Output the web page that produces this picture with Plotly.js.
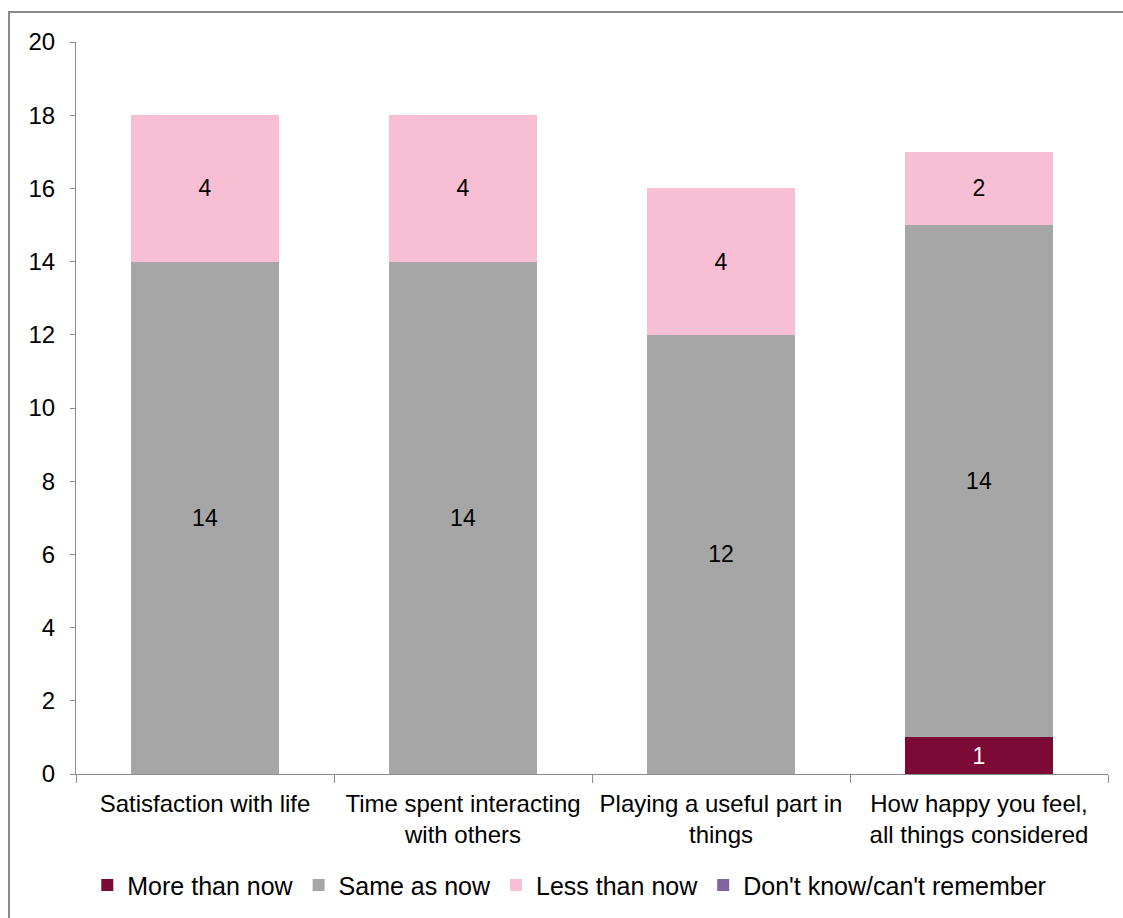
<!DOCTYPE html>
<html>
<head>
<meta charset="utf-8">
<script src="https://cdn.plot.ly/plotly-3.0.1.min.js"></script>
<style>
  html, body { margin: 0; padding: 0; background: #fff; }
  #chart { width: 1123px; height: 918px; }
</style>
</head>
<body>
<div id="chart"></div>
<script>
// Categories (two-line labels under each bar)
const categories = [
  "Satisfaction with life",
  "Time spent interacting<br>with others",
  "Playing a useful part in<br>things",
  "How happy you feel,<br>all things considered"
];

// Counts per response
const moreThanNow = [0, 0, 0, 1];
const sameAsNow = [14, 14, 12, 14];
const lessThanNow = [4, 4, 4, 2];
const dontKnow = [0, 0, 0, 0];

const seriesNames = ["More than now", "Same as now", "Less than now", "Don't know/can't remember"];
const seriesColors = ["#7B0A37", "#A6A6A6", "#F8BFD4", "#8064A2"];
const labelColors = ["#FFFFFF", "#000000", "#000000", "#000000"];
const seriesValues = [moreThanNow, sameAsNow, lessThanNow, dontKnow];

const FONT = "Liberation Sans, Arial, sans-serif";

const traces = seriesValues.map((vals, i) => ({
  type: "bar",
  name: seriesNames[i],
  x: categories,
  y: vals,
  text: vals.map(v => (v ? String(v) : "")),
  textposition: "inside",
  insidetextanchor: "middle",
  textangle: 0,
  constraintext: "none",
  textfont: { family: FONT, size: 23, color: labelColors[i] },
  marker: { color: seriesColors[i], line: { width: 0 } },
  hoverinfo: "skip"
}));

const layout = {
  width: 1123,
  height: 918,
  barmode: "stack",
  bargap: 0.426,
  paper_bgcolor: "#FFFFFF",
  plot_bgcolor: "#FFFFFF",
  font: { family: FONT, size: 24, color: "#000000" },
  margin: { l: 76, r: 15, t: 42, b: 144, autoexpand: false },
  showlegend: true,
  legend: {
    orientation: "h",
    x: 0.478,
    xanchor: "center",
    y: -0.152,
    yanchor: "middle",
    traceorder: "normal",
    font: { family: FONT, size: 25, color: "#000000" },
    itemwidth: 30,
    bgcolor: "rgba(0,0,0,0)"
  },
  xaxis: {
    type: "category",
    showgrid: false,
    zeroline: false,
    showline: true,
    linecolor: "#8C8C8C",
    linewidth: 1,
    ticks: "outside",
    tickson: "boundaries",
    ticklen: 8,
    tickcolor: "#8C8C8C",
    tickangle: 0,
    ticklabelstandoff: 8,
    tickfont: { family: FONT, size: 24, color: "#000000" },
    fixedrange: true
  },
  yaxis: {
    range: [0, 20],
    dtick: 2,
    tick0: 0,
    showgrid: false,
    zeroline: false,
    showline: true,
    linecolor: "#8C8C8C",
    linewidth: 1,
    ticks: "outside",
    ticklen: 5,
    tickcolor: "#8C8C8C",
    ticklabelstandoff: 10,
    tickfont: { family: FONT, size: 24, color: "#000000" },
    fixedrange: true
  },
  shapes: [{
    type: "rect",
    xref: "paper",
    yref: "paper",
    x0: (9 - 76) / 1032,
    x1: (1130 - 76) / 1032,
    y0: (774 - 930) / 732,
    y1: (774 - 12) / 732,
    line: { color: "#898989", width: 2 },
    fillcolor: "rgba(0,0,0,0)",
    layer: "below"
  }]
};

Plotly.newPlot("chart", traces, layout, { displayModeBar: false, staticPlot: true });
</script>
</body>
</html>
